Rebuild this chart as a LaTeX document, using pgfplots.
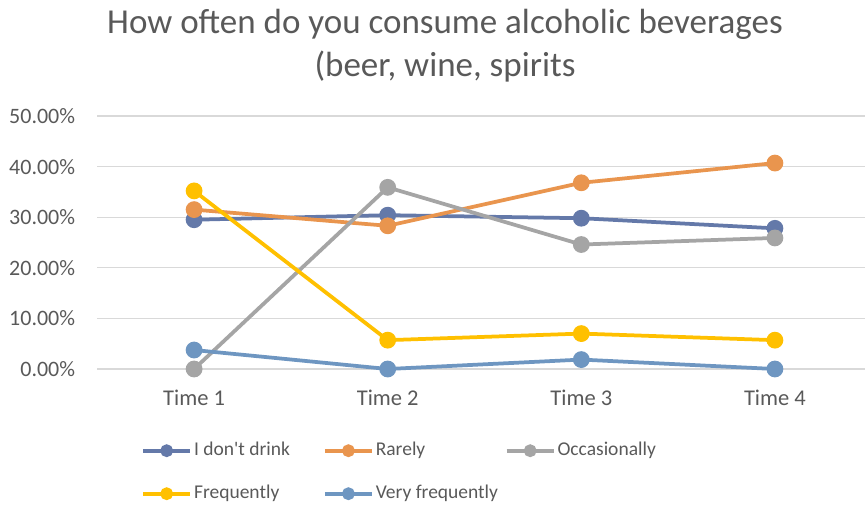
\documentclass[border=0pt]{standalone}
\usepackage{fontspec}
\setmainfont{Carlito}[Ligatures=TeXOff]
\usepackage{pgfplots}
\pgfplotsset{compat=1.18}
\definecolor{tcol}{HTML}{595959}
\definecolor{gcol}{HTML}{D9D9D9}
\definecolor{cA}{HTML}{6479A9}
\definecolor{cB}{HTML}{E9954E}
\definecolor{cC}{HTML}{A5A5A5}
\definecolor{cD}{HTML}{FFC000}
\definecolor{cE}{HTML}{6E96C1}
\begin{document}
\begin{tikzpicture}
\useasboundingbox (0pt,0pt) rectangle (865pt,507pt);
\node[anchor=base, font=\fontsize{35}{40}\selectfont, text=tcol, inner sep=0pt] at (445pt,473pt) {How often do you consume alcoholic beverages};
\node[anchor=base, font=\fontsize{35}{40}\selectfont, text=tcol, inner sep=0pt] at (445pt,430pt) {(beer, wine, spirits};
\begin{axis}[
  at={(97.3pt,138pt)}, anchor=south west,
  width=768.6pt, height=253pt, scale only axis,
  xmin=-0.5, xmax=3.47, ymin=0, ymax=50,
  clip=false,
  axis line style={draw=none},
  major tick length=0pt,
  xtick={0,1,2,3},
  xticklabels={Time 1,Time 2,Time 3,Time 4},
  ytick={0,10,20,30,40,50},
  ymajorgrids,
  grid style={gcol, line width=1.2pt},
  /pgf/number format/assume math mode=true,
  yticklabel={\pgfmathprintnumber[fixed,fixed zerofill,precision=2]{\tick}\%},
  yticklabel style={anchor=east, inner sep=0pt, xshift=-22pt, font=\fontsize{22}{25}\selectfont, text=tcol},
  xticklabel style={anchor=base, inner sep=0pt, yshift=-36pt, font=\fontsize{22.5}{25}\selectfont, text=tcol},
  every axis plot/.append style={line width=3.75pt, mark=*, mark size=6.5pt},
  legend columns=3,
  legend cell align=left,
  legend image code/.code={\draw[#1,mark size=4.5pt,mark repeat=2,mark phase=2] plot coordinates {(0pt,0pt) (23.5pt,0pt) (47pt,0pt)};},
  legend style={at={(0.057,-0.2846)}, anchor=north west, draw=none, fill=none, inner sep=0pt,
    column sep=2pt, row sep=24pt, font=\fontsize{19.5}{23}\selectfont, text=tcol,
    nodes={inner sep=0pt, text height=14pt, text depth=5pt}},
]
\addplot[color=cA, mark options={fill=cA, draw=cA}] coordinates {(0,29.5) (1,30.4) (2,29.8) (3,27.8)};
\addlegendentry{\makebox[127pt][l]{I don't drink}}
\addplot[color=cB, mark options={fill=cB, draw=cB}] coordinates {(0,31.5) (1,28.3) (2,36.8) (3,40.7)};
\addlegendentry{\makebox[127pt][l]{Rarely}}
\addplot[color=cC, mark options={fill=cC, draw=cC}] coordinates {(0,0) (1,35.9) (2,24.6) (3,25.9)};
\addlegendentry{Occasionally}
\addplot[color=cD, mark options={fill=cD, draw=cD}] coordinates {(0,35.2) (1,5.7) (2,7.0) (3,5.7)};
\addlegendentry{\makebox[127pt][l]{Frequently}}
\addplot[color=cE, mark options={fill=cE, draw=cE}] coordinates {(0,3.75) (1,0) (2,1.86) (3,0)};
\addlegendentry{\makebox[127pt][l]{Very frequently}}
\end{axis}
\end{tikzpicture}
\end{document}
